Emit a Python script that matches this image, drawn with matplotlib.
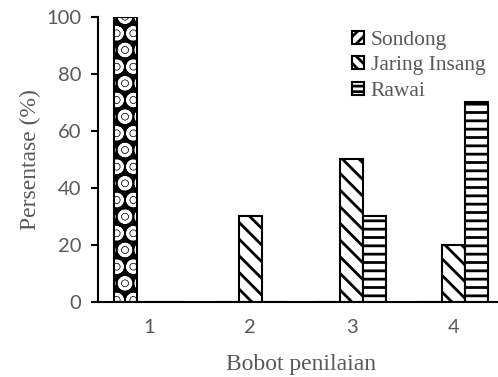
# Grouped bar chart: Persentase per bobot penilaian
import numpy as np
import matplotlib
matplotlib.use("Agg")
import matplotlib.pyplot as plt
from matplotlib.patches import Patch

# Data
categories = ["1", "2", "3", "4"]
sondong = [100, 0, 0, 0]
jaring_insang = [0, 30, 50, 20]
rawai = [0, 0, 30, 70]
series_names = ["Sondong", "Jaring Insang", "Rawai"]
y_ticks = [0, 20, 40, 60, 80, 100]
# ============================================

plt.rcParams["hatch.linewidth"] = 2.0
grey = "#595959"
serif = "Liberation Serif"
sans = "Lato"

fig = plt.figure(figsize=(4.98, 3.77), dpi=100)
ax = fig.add_axes([0.197, 0.199, 0.815, 0.756])

x = np.arange(1, len(categories) + 1)
w = 0.227

# Sondong: first bar has a dotted pattern, legend uses diagonal
ax.bar(x - w, sondong, w, color="black", edgecolor="white", linewidth=0, hatch="O.")
ax.bar(x - w, sondong, w, fill=False, edgecolor="black", linewidth=1.5)
ax.bar(x, jaring_insang, w, color="white", edgecolor="black", linewidth=1.5, hatch="\\\\")
ax.bar(x + w, rawai, w, color="white", edgecolor="black", linewidth=1.5, hatch="--")

ax.set_xlim(0.5, 4.5)
ax.set_ylim(0, 100)
ax.set_xticks(x)
ax.set_xticklabels(categories, fontfamily=sans, fontsize=14.5, color=grey)
ax.set_yticks(y_ticks)
ax.set_yticklabels([str(v) for v in y_ticks], fontfamily=sans, fontsize=14.5, color=grey)
ax.tick_params(axis="x", length=0, pad=12)
ax.tick_params(axis="y", direction="out", length=5, width=1.5, pad=7)

for side in ["top", "right"]:
    ax.spines[side].set_visible(False)
ax.spines["left"].set_linewidth(1.5)
ax.spines["bottom"].set_linewidth(1.5)

ax.set_xlabel("Bobot penilaian", fontfamily=serif, fontsize=17, color=grey, labelpad=13)
ax.set_ylabel("Persentase (%)", fontfamily=serif, fontsize=17, color=grey, labelpad=4)

handles = [
    Patch(facecolor="white", edgecolor="black", linewidth=1.5, hatch="///"),
    Patch(facecolor="white", edgecolor="black", linewidth=1.5, hatch="\\\\\\"),
    Patch(facecolor="white", edgecolor="black", linewidth=1.5, hatch="---"),
]
leg = ax.legend(handles, series_names, loc="upper left", bbox_to_anchor=(0.60, 0.99),
                frameon=False, prop={"family": serif, "size": 15.5},
                handlelength=0.55, handleheight=0.55, handletextpad=0.3,
                labelspacing=0.3, borderpad=0)
for t in leg.get_texts():
    t.set_color(grey)

fig.savefig("out.png", dpi=100)
